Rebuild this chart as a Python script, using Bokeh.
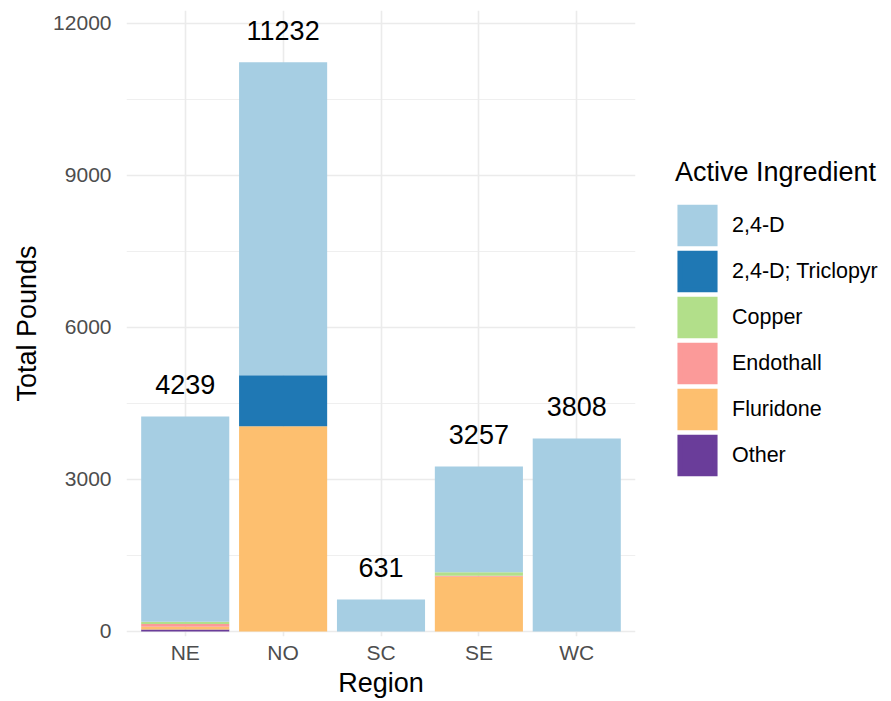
from bokeh.plotting import figure
from bokeh.models import FactorRange, FixedTicker, Legend, LegendItem, ColumnDataSource, Range1d
from bokeh.embed import file_html
from bokeh.resources import INLINE
from bokeh.core.properties import value

# ---- data ----
regions = ["NE", "NO", "SC", "SE", "WC"]
ingredients = ["2,4-D", "2,4-D; Triclopyr", "Copper", "Endothall", "Fluridone", "Other"]
colors = ["#A6CEE3", "#1F78B4", "#B2DF8A", "#FB9A99", "#FDBF6F", "#6A3D9A"]
d24 = [4048, 6179, 631, 2087, 3808]
triclopyr = [0, 1006, 0, 0, 0]
copper = [45, 0, 0, 70, 0]
endothall = [53, 0, 0, 20, 0]
fluridone = [53, 4047, 0, 1080, 0]
other = [40, 0, 0, 0, 0]
y_ticks = [0, 3000, 6000, 9000, 12000]
y_minor = [1500, 4500, 7500, 10500]

FONT = "Liberation Sans"

series = {"2,4-D": d24, "2,4-D; Triclopyr": triclopyr, "Copper": copper,
          "Endothall": endothall, "Fluridone": fluridone, "Other": other}
totals = [sum(v) for v in zip(*series.values())]

src = ColumnDataSource(dict(region=regions, **series))

p = figure(x_range=FactorRange(*regions, range_padding=0.1, range_padding_units="absolute"),
           y_range=Range1d(-99, 12251),
           frame_width=509, frame_height=626, output_backend="svg", toolbar_location=None,
           min_border_left=126, min_border_right=240, min_border_top=10, min_border_bottom=57)
p.outline_line_color = None
p.background_fill_color = "white"

# legend keys: small renderers drawn underneath (hidden behind) the NO bar
key_src = ColumnDataSource(dict(x=["NO"], top=[2000], bottom=[1500]))
items = []
for name, col in zip(ingredients, colors):
    r = p.vbar(x="x", top="top", bottom="bottom", width=0.4, source=key_src, fill_color=col,
               line_color=col, line_width=4.9, line_join="miter", level="underlay")
    items.append(LegendItem(label=name, renderers=[r]))

# stack bottom-up (ggplot draws first level on top)
stack_order = ["Other", "Fluridone", "Endothall", "Copper", "2,4-D; Triclopyr", "2,4-D"]
stack_colors = [colors[ingredients.index(s)] for s in stack_order]
p.vbar_stack(stack_order, x="region", width=0.9, fill_color=stack_colors, line_color=None,
             source=src)

# total labels
lab = ColumnDataSource(dict(x=regions, y=totals, t=[str(v) for v in totals]))
p.text(x="x", y="y", text="t", source=lab, text_align="center", text_baseline="alphabetic",
       y_offset=-32, text_font=value(FONT), text_font_size=value("27px"), text_color="black")

legend = Legend(items=items, title="Active Ingredient", location=(40, 158),
                glyph_width=44, glyph_height=46, spacing=0, label_standoff=13,
                padding=0, margin=0, border_line_color=None, background_fill_alpha=0,
                label_text_font=FONT, label_text_font_size="21.5px", label_text_color="black",
                title_text_font=FONT, title_text_font_size="27px", title_text_font_style="normal",
                title_text_color="black", title_standoff=14)
p.add_layout(legend, "right")

# axes
p.yaxis.ticker = FixedTicker(ticks=y_ticks, minor_ticks=y_minor)
for ax in (p.xaxis, p.yaxis):
    ax.axis_line_color = None
    ax.major_tick_line_color = None
    ax.minor_tick_line_color = None
    ax.major_tick_out = 0
    ax.minor_tick_out = 0
    ax.major_label_text_font = FONT
    ax.major_label_text_font_size = "21px"
    ax.major_label_text_color = "#4D4D4D"
    ax.axis_label_text_font = FONT
    ax.axis_label_text_font_size = "27px"
    ax.axis_label_text_font_style = "normal"
    ax.axis_label_text_color = "black"
p.yaxis.axis_label = "Total Pounds"
p.xaxis.axis_label = "Region"
p.yaxis.major_label_standoff = 15
p.yaxis.axis_label_standoff = 8
p.xaxis.major_label_standoff = 4
p.xaxis.axis_label_standoff = 1

# grid
p.xgrid.grid_line_color = "#EBEBEB"
p.xgrid.grid_line_width = 1.6
p.ygrid.grid_line_color = "#EBEBEB"
p.ygrid.grid_line_width = 1.6
p.ygrid.minor_grid_line_color = "#EBEBEB"
p.ygrid.minor_grid_line_width = 0.8

open("out.html", "w").write(file_html(p, INLINE))
